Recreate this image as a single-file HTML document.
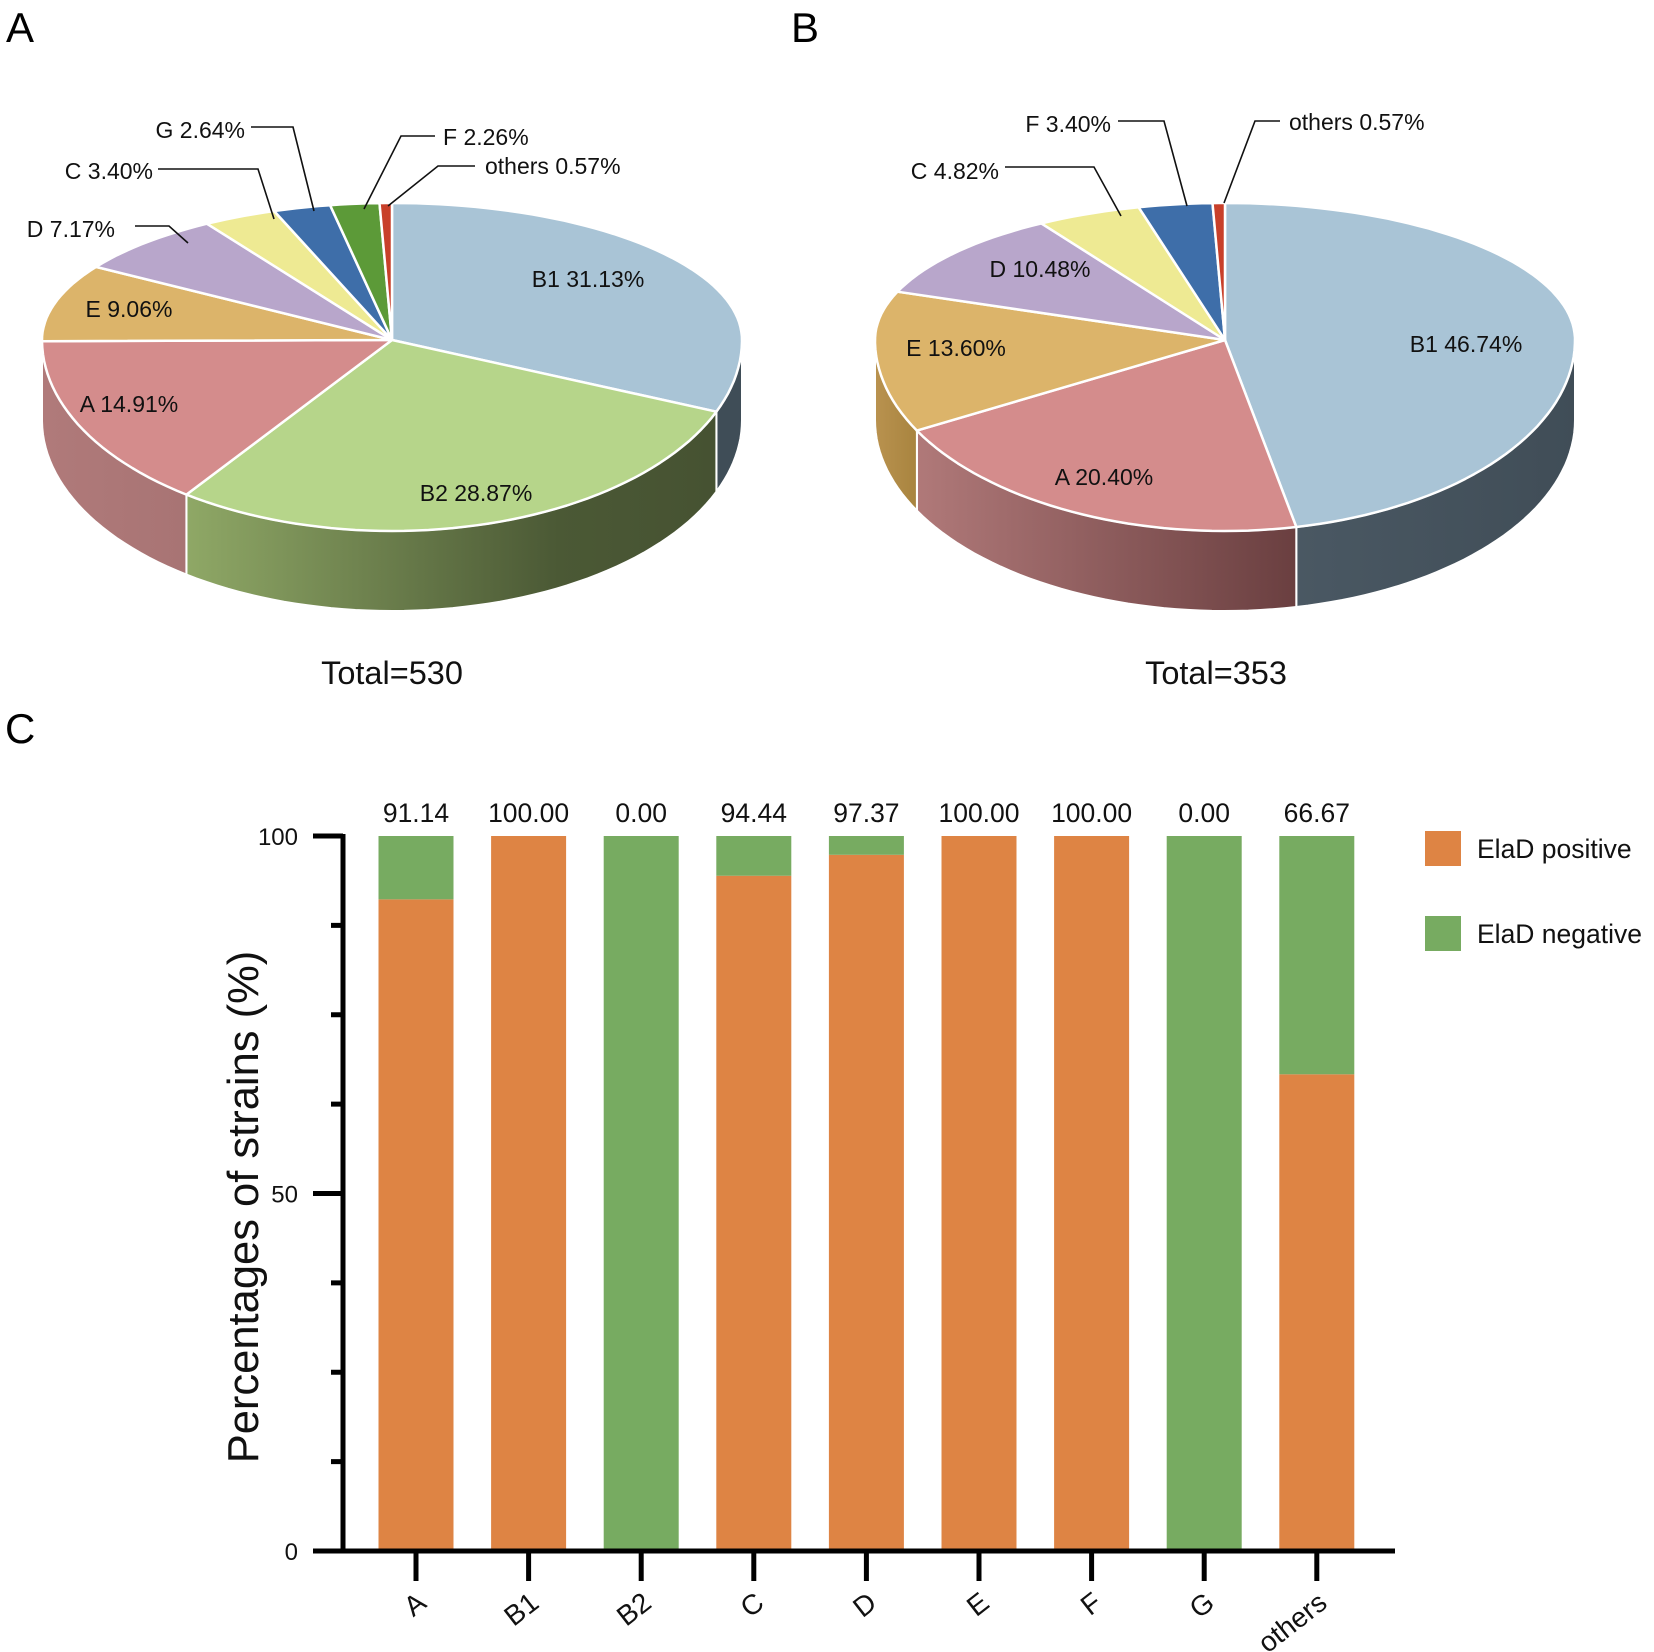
<!DOCTYPE html>
<html><head><meta charset="utf-8">
<style>
html,body{margin:0;padding:0;background:#fff;}
svg{display:block;font-family:"Liberation Sans",sans-serif;}
</style></head>
<body>
<svg id="fig" width="1654" height="1652" viewBox="0 0 1654 1652" xmlns="http://www.w3.org/2000/svg">
<defs>
  <linearGradient id="gB2" x1="0" x2="1" y1="0" y2="0"><stop offset="0" stop-color="#8fa866"/><stop offset="0.7" stop-color="#4b5935"/><stop offset="1" stop-color="#465232"/></linearGradient>
  <linearGradient id="gA1" x1="0" x2="1" y1="0" y2="0"><stop offset="0" stop-color="#b07a7a"/><stop offset="1" stop-color="#a87474"/></linearGradient>
  <linearGradient id="gA2" x1="0" x2="1" y1="0" y2="0"><stop offset="0" stop-color="#b07979"/><stop offset="1" stop-color="#6a3f40"/></linearGradient>
  <linearGradient id="gB1" x1="0" x2="1" y1="0" y2="0"><stop offset="0" stop-color="#4a5863"/><stop offset="1" stop-color="#404d57"/></linearGradient>
  <linearGradient id="gE" x1="0" x2="1" y1="0" y2="0"><stop offset="0" stop-color="#b9924f"/><stop offset="1" stop-color="#a8843f"/></linearGradient>
</defs>
<g font-size="42" fill="#000">
  <text x="6" y="42">A</text>
  <text x="791" y="42">B</text>
  <text x="5" y="743">C</text>
</g>
<g id="pieA"></g>
<g id="pieB"></g>
<g font-size="23" fill="#111">
  <text x="588" y="287" text-anchor="middle">B1 31.13%</text>
  <text x="476" y="501" text-anchor="middle">B2 28.87%</text>
  <text x="129" y="412" text-anchor="middle">A 14.91%</text>
  <text x="129" y="317" text-anchor="middle">E 9.06%</text>
  <text x="115" y="237" text-anchor="end">D 7.17%</text>
  <text x="153" y="179" text-anchor="end">C 3.40%</text>
  <text x="245" y="138" text-anchor="end">G 2.64%</text>
  <text x="443" y="145">F 2.26%</text>
  <text x="485" y="174">others 0.57%</text>
  <g fill="none" stroke="#111" stroke-width="1.6">
    <polyline points="135,226 169,226 188,243"/>
    <polyline points="158,169 258,169 274,219"/>
    <polyline points="251,127 293,127 314,211"/>
    <polyline points="435,136 401,136 364,209"/>
    <polyline points="475,166 438,166 388,206"/>
  </g>
  <text x="392" y="684" text-anchor="middle" font-size="32.5">Total=530</text>
</g>
<g font-size="23" fill="#111">
  <text x="1466" y="352" text-anchor="middle">B1 46.74%</text>
  <text x="1104" y="485" text-anchor="middle">A 20.40%</text>
  <text x="956" y="356" text-anchor="middle">E 13.60%</text>
  <text x="1040" y="277" text-anchor="middle">D 10.48%</text>
  <text x="999" y="179" text-anchor="end">C 4.82%</text>
  <text x="1111" y="132" text-anchor="end">F 3.40%</text>
  <text x="1289" y="130">others 0.57%</text>
  <g fill="none" stroke="#111" stroke-width="1.6">
    <polyline points="1005,167 1094,167 1121,216"/>
    <polyline points="1118,121 1164,121 1187,206"/>
    <polyline points="1280,121 1255,121 1224,203"/>
  </g>
  <text x="1216" y="684" text-anchor="middle" font-size="32.5">Total=353</text>
</g>
<g id="bar"></g>
</svg>
<script>
// ---- pie data ----
const pieALabels = ["B1","B2","A","E","D","C","G","F","others"];
const pieAValues = [31.13,28.87,14.91,9.06,7.17,3.40,2.64,2.26,0.57];
const pieBLabels = ["B1","A","E","D","C","F","others"];
const pieBValues = [46.74,20.40,13.60,10.48,4.82,3.40,0.57];
// ---- bar data ----
const categories = ["A","B1","B2","C","D","E","F","G","others"];
const positiveValues = [91.14,100,0,94.44,97.37,100,100,0,66.67];
const valueLabels = ["91.14","100.00","0.00","94.44","97.37","100.00","100.00","0.00","66.67"];
const yTicks = [0,12.5,25,37.5,50,62.5,75,87.5,100];
const yTickLabels = ["0","","","","50","","","","100"];

const NS="http://www.w3.org/2000/svg";
function mk(tag,attrs,parent){const e=document.createElementNS(NS,tag);for(const k in attrs)e.setAttribute(k,attrs[k]);parent.appendChild(e);return e;}

const topColors={B1:"#a9c4d6",B2:"#b6d58a",A:"#d48c8c",E:"#dcb46a",D:"#b8a6cb",C:"#eeea93",G:"#3e6ea9"};
function drawPie(gid,labels,values,cfg){
  const g=document.getElementById(gid);
  const {cx,cy,rx,ryT,ryB,depth,colors,sides}=cfg;
  function pt(th,dy){const r=th*Math.PI/180;const c=Math.cos(r);return [cx+rx*Math.sin(r), cy-(c>0?ryT:ryB)*c+(dy||0)];}
  function arc(a1,a2,dy){let s="";const n=Math.max(2,Math.ceil(Math.abs(a2-a1)/2));for(let i=0;i<=n;i++){const p=pt(a1+(a2-a1)*i/n,dy);s+=(i?"L":"")+p[0].toFixed(1)+","+p[1].toFixed(1);}return s;}
  const total=values.reduce((a,b)=>a+b,0);
  let a=0;const segs=[];
  values.forEach((v,i)=>{const a2=a+v/total*360;segs.push([a,a2,i]);a=a2;});
  segs.forEach(([a1,a2,i])=>{
    const s1=Math.max(a1,90),s2=Math.min(a2,270);
    if(s2<=s1)return;
    const p=mk("path",{d:"M"+arc(s1,s2,0)+"L"+arc(s2,s1,depth)+"Z",fill:sides[labels[i]]||"#777",stroke:"#fff","stroke-width":2},g);
    
    
  });
  segs.forEach(([a1,a2,i])=>{
    const p=mk("path",{d:"M"+cx+","+cy+"L"+arc(a1,a2,0)+"Z",fill:colors[labels[i]],stroke:"#fff","stroke-width":2.5,"stroke-linejoin":"round"},g);
    
    
  });
}
drawPie("pieA",pieALabels,pieAValues,{cx:392,cy:340,rx:350,ryT:137,ryB:191,depth:80,
  colors:Object.assign({},topColors,{G:"#3e6ea9",F:"#5c9a38",others:"#c8402a"}),
  sides:{B1:"#3f4d57",B2:"url(#gB2)",A:"url(#gA1)",E:"url(#gE)"}});
drawPie("pieB",pieBLabels,pieBValues,{cx:1225,cy:340,rx:350,ryT:137,ryB:191,depth:80,
  colors:Object.assign({},topColors,{F:"#3e6ea9",others:"#c8402a"}),
  sides:{B1:"url(#gB1)",A:"url(#gA2)",E:"url(#gE)"}});

// ---- bar chart ----
const bg=document.getElementById("bar");
const axX=343,y0=1551,y100=836,firstX=416,step=112.6,bw=75;
const yS=v=>y0-(v/100)*(y0-y100);
const xS=i=>firstX+i*step;
categories.forEach((c,i)=>{
  const x=xS(i)-bw/2,pos=positiveValues[i];
  const r1=mk("rect",{x:x,y:yS(pos),width:bw,height:y0-yS(pos),fill:"#de8444"},bg);
  
  
  const r2=mk("rect",{x:x,y:yS(100),width:bw,height:yS(pos)-yS(100),fill:"#77ab61"},bg);
  
  
  const t=mk("text",{x:xS(i),y:822,"text-anchor":"middle","font-size":26.5,fill:"#111"},bg);
  t.textContent=valueLabels[i];
  
  
  const tk=mk("line",{x1:xS(i),x2:xS(i),y1:y0,y2:y0+30,stroke:"#000","stroke-width":5},bg);
  
  
  const lx=xS(i)+12,ly=y0+55;
  const xl=mk("text",{x:lx,y:ly,"text-anchor":"end","font-size":28,fill:"#111",transform:"rotate(-38 "+lx+" "+ly+")"},bg);
  xl.textContent=c;
  
  
});
yTicks.forEach((v,i)=>{
  const major=yTickLabels[i]!=="";
  const l=mk("line",{x1:axX-(major?30:12),x2:axX,y1:yS(v),y2:yS(v),stroke:"#000","stroke-width":5},bg);
  
  
  if(major){
    const t=mk("text",{x:axX-45,y:yS(v)+9,"text-anchor":"end","font-size":24,fill:"#111"},bg);
    t.textContent=yTickLabels[i];
    
    
  }
});
const ya=mk("line",{x1:axX,x2:axX,y1:y100-2,y2:y0+2.5,stroke:"#000","stroke-width":5},bg);


const xa=mk("line",{x1:axX-30,x2:1395,y1:y0,y2:y0,stroke:"#000","stroke-width":5},bg);


const yt=mk("text",{x:258,y:1207,"text-anchor":"middle","font-size":43.5,fill:"#111",transform:"rotate(-90 258 1207)"},bg);
yt.textContent="Percentages of strains (%)";


// legend
const legItems=[["ElaD positive","#de8444",831],["ElaD negative","#77ab61",916]];
legItems.forEach(([lab,col,y])=>{
  const r=mk("rect",{x:1425,y:y,width:36,height:35,fill:col},bg);
  
  
  const t=mk("text",{x:1477,y:y+27,"font-size":26.5,fill:"#111"},bg);
  t.textContent=lab;
  
  
});
</script>
</body></html>
